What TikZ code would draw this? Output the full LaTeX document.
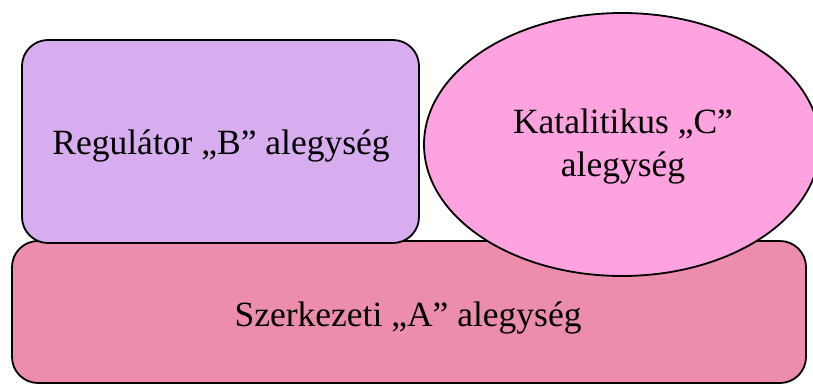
\documentclass[tikz,border=0pt]{standalone}
\usepackage{fontspec}
\setmainfont{Liberation Serif}
\definecolor{colA}{RGB}{236,141,173}
\definecolor{colB}{RGB}{215,173,240}
\definecolor{colC}{RGB}{255,162,224}
\tikzset{
  unit/.style={draw=black, line width=1.8pt, rounded corners=26pt},
  label/.style={font=\fontsize{35.5}{43}\selectfont, align=center, text=black}
}
\begin{document}
\begin{tikzpicture}[x=1pt,y=1pt]
  \useasboundingbox (0,0) rectangle (813,-383);
  % structural subunit A
  \draw[unit, fill=colA] (12,-241) rectangle (806,-383);
  \node[label] (A) at (408,-318) {Szerkezeti „A” alegység};
  % regulatory subunit B
  \draw[unit, fill=colB] (22,-40) rectangle (419,-243);
  \node[label] (B) at (221,-146) {Regulátor „B” alegység};
  % catalytic subunit C
  \draw[draw=black, line width=1.8pt, fill=colC] (622,-144.5) ellipse [x radius=198, y radius=131.5];
  \node[label] (C) at (623,-147) {Katalitikus „C”\\alegység};
\end{tikzpicture}
\end{document}
